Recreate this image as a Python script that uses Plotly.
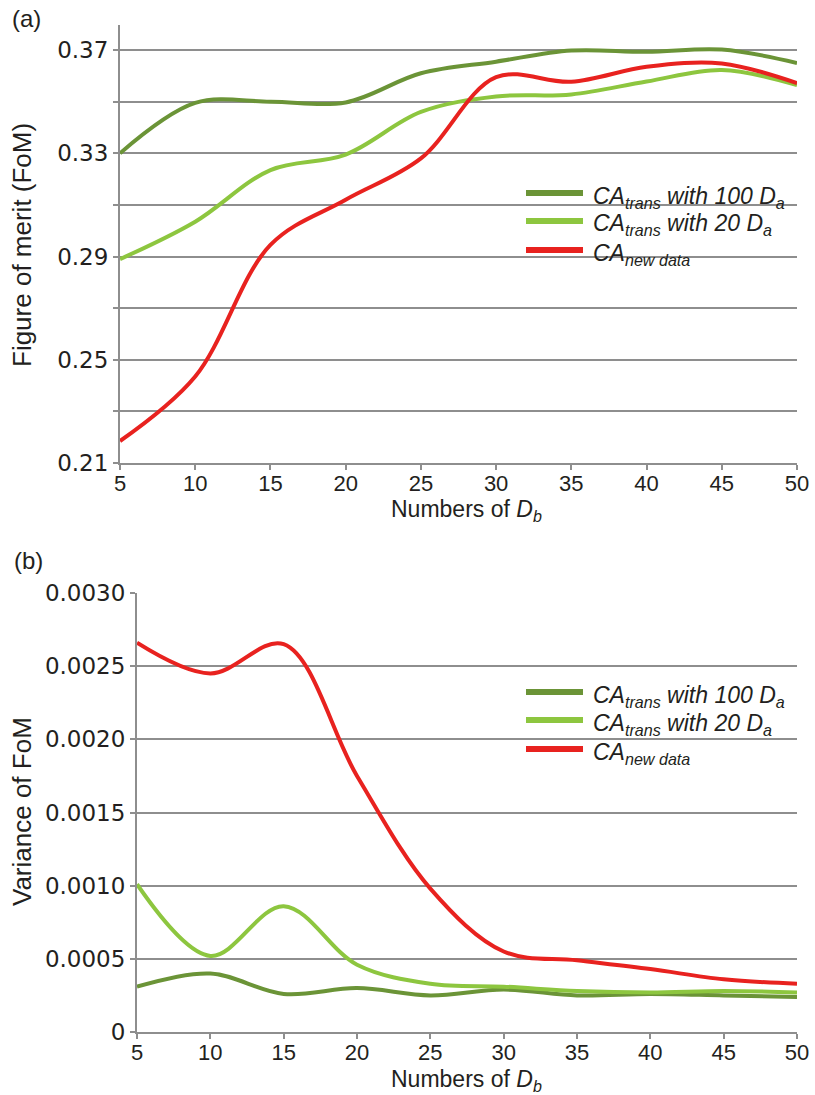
import plotly.graph_objects as go

# ---------------- data ----------------
n_db = [5, 10, 15, 20, 25, 30, 35, 40, 45, 50]

fom_trans_100 = [0.3300, 0.3495, 0.3500, 0.3497, 0.3610, 0.3655, 0.3698, 0.3693, 0.3702, 0.3650]
fom_trans_20 = [0.2890, 0.3035, 0.3235, 0.3295, 0.3460, 0.3520, 0.3528, 0.3578, 0.3623, 0.3564]
fom_new_data = [0.2185, 0.2435, 0.2945, 0.3120, 0.3280, 0.3595, 0.3577, 0.3635, 0.3648, 0.3572]

var_trans_100 = [0.00031, 0.00040, 0.00026, 0.00030, 0.00025, 0.00029, 0.00025, 0.00026, 0.00025, 0.00024]
var_trans_20 = [0.00101, 0.00052, 0.00086, 0.00046, 0.00033, 0.00031, 0.00028, 0.00027, 0.00028, 0.00027]
var_new_data = [0.00266, 0.00245, 0.00265, 0.00175, 0.00098, 0.00055, 0.00049, 0.00043, 0.00036, 0.00033]

series_names = [
    "<i>CA<sub>trans</sub> with 100 D<sub>a</sub></i>",
    "<i>CA<sub>trans</sub> with 20 D<sub>a</sub></i>",
    "<i>CA<sub>new data</sub></i>",
]

fom_ticks = [0.21, 0.23, 0.25, 0.27, 0.29, 0.31, 0.33, 0.35, 0.37]
fom_ticktext = ["0.21", "", "0.25", "", "0.29", "", "0.33", "", "0.37"]
var_ticks = [0, 0.0005, 0.0010, 0.0015, 0.0020, 0.0025, 0.0030]
var_ticktext = ["0", "0.0005", "0.0010", "0.0015", "0.0020", "0.0025", "0.0030"]
x_ticks = [5, 10, 15, 20, 25, 30, 35, 40, 45, 50]

# ---------------- style ----------------
W, H = 815, 1095
colors = ["#6b9437", "#8dc63f", "#e8221f"]
grid_c = "#8e8e8e"
txt_c = "#231f20"


def px(x):
    return x / W


def py(y):
    return 1 - y / H


fig = go.Figure()

for vals, col, name in zip([fom_trans_100, fom_trans_20, fom_new_data], colors, series_names):
    fig.add_trace(go.Scatter(x=n_db, y=vals, mode="lines", name=name,
                             line=dict(color=col, width=4, shape="spline", smoothing=1.0),
                             xaxis="x", yaxis="y", showlegend=False))
for vals, col, name in zip([var_trans_100, var_trans_20, var_new_data], colors, series_names):
    fig.add_trace(go.Scatter(x=n_db, y=vals, mode="lines", name=name,
                             line=dict(color=col, width=4, shape="spline", smoothing=1.0),
                             xaxis="x2", yaxis="y2", showlegend=False))

xtick_font = dict(family="Liberation Sans, Arial", size=22, color=txt_c)
ytick_font = dict(family="DejaVu Sans, Liberation Sans", size=23, color=txt_c)

common_x = dict(range=[5, 50], tickvals=x_ticks, showgrid=False, showline=True,
                linecolor=grid_c, linewidth=2, ticks="outside", ticklen=5, tickwidth=2,
                tickcolor=grid_c, tickfont=xtick_font, zeroline=False, automargin=False,
                ticklabelstandoff=-5)
common_y = dict(showgrid=True, gridcolor=grid_c, gridwidth=2, showline=True,
                linecolor=grid_c, linewidth=2, ticks="outside", ticklen=5, tickwidth=2,
                tickcolor=grid_c, tickfont=ytick_font, zeroline=False, automargin=False,
                tickmode="array")

fig.update_layout(
    width=W, height=H,
    margin=dict(l=0, r=0, t=0, b=0),
    paper_bgcolor="white", plot_bgcolor="white",
    xaxis=dict(domain=[px(120), px(797)], anchor="y", **common_x),
    yaxis=dict(domain=[py(463), py(25)], anchor="x", range=[0.21, 0.3797],
               tickvals=fom_ticks, ticktext=fom_ticktext, **common_y),
    xaxis2=dict(domain=[px(137), px(797)], anchor="y2", **common_x),
    yaxis2=dict(domain=[py(1032), py(593)], anchor="x2", range=[0, 0.0030],
                tickvals=var_ticks, ticktext=var_ticktext, **common_y),
)

title_font = dict(family="Liberation Sans, Arial", size=26, color=txt_c)
xtitle_font = dict(family="Liberation Sans, Arial", size=23, color=txt_c)
annotations = [
    dict(text="(a)", x=px(10), y=py(18), xanchor="left", yanchor="middle",
         font=dict(family="Liberation Sans, Arial", size=24, color=txt_c)),
    dict(text="(b)", x=px(12), y=py(560), xanchor="left", yanchor="middle",
         font=dict(family="Liberation Sans, Arial", size=24, color=txt_c)),
    dict(text="Figure of merit (FoM)", x=px(22), y=py(245), textangle=-90,
         xanchor="center", yanchor="middle", font=title_font),
    dict(text="Variance of FoM", x=px(22), y=py(812), textangle=-90,
         xanchor="center", yanchor="middle", font=title_font),
    dict(text="Numbers of <i>D<sub>b</sub></i>", x=px(466), y=py(510),
         xanchor="center", yanchor="middle", font=xtitle_font),
    dict(text="Numbers of <i>D<sub>b</sub></i>", x=px(466), y=py(1080),
         xanchor="center", yanchor="middle", font=xtitle_font),
]

shapes = []
legend_font = dict(family="Liberation Sans, Arial", size=23, color=txt_c)
for rows in ([193, 221, 250], [692, 720, 749]):
    for yrow, col, name in zip(rows, colors, series_names):
        shapes.append(dict(type="line", xref="paper", yref="paper",
                           x0=px(526), x1=px(583), y0=py(yrow), y1=py(yrow),
                           line=dict(color=col, width=6)))
        annotations.append(dict(text=name, x=px(591), y=py(yrow + 4), xanchor="left",
                                yanchor="middle", showarrow=False, font=legend_font))

for a in annotations:
    a.setdefault("showarrow", False)
    a["xref"] = "paper"
    a["yref"] = "paper"

fig.update_layout(annotations=annotations, shapes=shapes)

fig.write_html("out.html", config={"displayModeBar": False},
               post_script="document.body.style.margin='0';document.body.style.padding='0';")
